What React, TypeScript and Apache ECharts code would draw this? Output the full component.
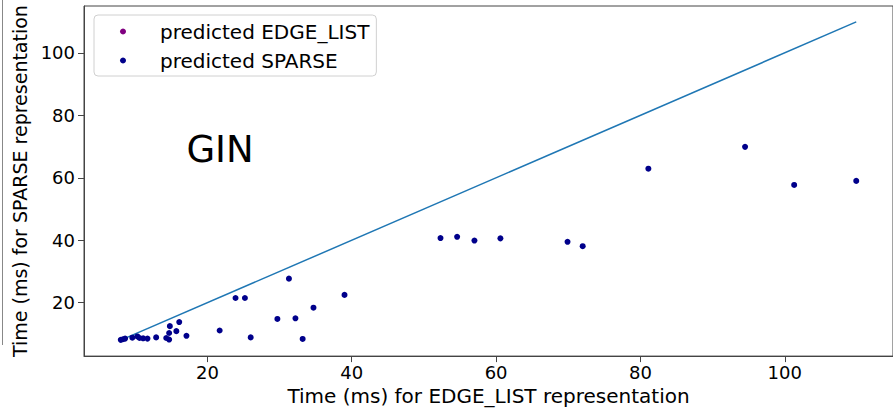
import React, { useEffect, useRef } from "react";
import * as echarts from "echarts";

// Per-graph timings (ms): EDGE_LIST representation vs SPARSE representation
const edgeListTimes = [
  8.0, 8.3, 8.6, 9.6, 10.3, 10.6, 11.1, 11.7, 12.9, 14.3, 14.7, 14.7, 14.8, 15.7,
  16.1, 17.1, 21.7, 23.9, 25.2, 26.0, 29.7, 31.3, 32.2, 33.2, 34.7, 39.0, 52.3,
  54.6, 57.0, 60.6, 69.9, 72.0, 81.1, 94.5, 101.3, 109.9,
];
const sparseTimes = [
  8.1, 8.3, 8.5, 8.8, 9.2, 8.7, 8.6, 8.5, 8.9, 8.7, 8.2, 10.3, 12.5, 10.9, 13.8,
  9.4, 11.1, 21.5, 21.5, 8.9, 14.8, 27.7, 15.0, 8.4, 18.4, 22.5, 40.7, 41.1, 39.9,
  40.6, 39.5, 38.1, 62.9, 69.9, 57.7, 59.0,
];
// Points where EDGE_LIST was predicted (none for this model)
const predictedEdgeList: number[][] = [];

const xTicks = [20, 40, 60, 80, 100];
const yTicks = [20, 40, 60, 80, 100];

const FONT = "DejaVu Sans";

export default function App() {
  const ref = useRef<HTMLDivElement>(null);

  useEffect(() => {
    document.body.style.margin = "0";
    if (!ref.current) return;
    const chart = echarts.init(ref.current, null, { renderer: "svg" });

    const sparsePoints = edgeListTimes.map((x, i) => [x, sparseTimes[i]]);
    const lo = Math.min(...edgeListTimes);
    const hi = Math.max(...edgeListTimes);
    const span = hi - lo;
    const xMin = lo - span * 0.05;
    const xMax = hi + span * 0.05;
    const yMin = Math.min(...sparseTimes, lo) - span * 0.05;
    const yMax = hi + span * 0.05;

    const axisColor = "#444";

    chart.setOption({
      animation: false,
      backgroundColor: "#fff",
      grid: {
        left: 84,
        top: 6,
        width: 815,
        height: 359,
        show: true,
        borderColor: axisColor,
        borderWidth: 1,
        backgroundColor: "transparent",
      },
      legend: {
        data: ["predicted EDGE_LIST", "predicted SPARSE"],
        orient: "vertical",
        left: 94,
        top: 15,
        icon: "circle",
        itemWidth: 16,
        itemHeight: 6,
        itemGap: 8,
        padding: [6, 7, 5, 26],
        borderColor: "#d0d0d0",
        borderWidth: 1,
        borderRadius: 4,
        backgroundColor: "rgba(255,255,255,0.85)",
        textStyle: {
          fontFamily: FONT,
          fontSize: 20,
          color: "#000",
          lineHeight: 21,
          padding: [0, 0, 0, 24],
        },
      },
      xAxis: {
        type: "value",
        min: xMin,
        max: xMax,
        splitLine: { show: false },
        axisLine: { show: true, lineStyle: { color: axisColor } },
        axisTick: { show: true, length: 6, customValues: xTicks, lineStyle: { color: axisColor } },
        axisLabel: { customValues: xTicks, fontFamily: FONT, fontSize: 18, color: "#000", margin: 7 },
        name: "Time (ms) for EDGE_LIST representation",
        nameLocation: "middle",
        nameGap: 22,
        nameTextStyle: { fontFamily: FONT, fontSize: 20, color: "#000" },
      },
      yAxis: {
        type: "value",
        min: yMin,
        max: yMax,
        splitLine: { show: false },
        axisLine: { show: true, lineStyle: { color: axisColor } },
        axisTick: { show: true, length: 6, customValues: yTicks, lineStyle: { color: axisColor } },
        axisLabel: { customValues: yTicks, fontFamily: FONT, fontSize: 18, color: "#000", margin: 9 },
        name: "Time (ms) for SPARSE representation",
        nameLocation: "middle",
        nameGap: 48,
        nameTextStyle: { fontFamily: FONT, fontSize: 19, color: "#000" },
      },
      series: [
        {
          name: "y = x",
          type: "line",
          data: [
            [lo, lo],
            [hi, hi],
          ],
          symbol: "none",
          lineStyle: { color: "#1f77b4", width: 1.5 },
          z: 1,
        },
        {
          name: "predicted EDGE_LIST",
          type: "scatter",
          data: predictedEdgeList,
          symbolSize: 6,
          itemStyle: { color: "#800080", opacity: 1 },
          z: 3,
        },
        {
          name: "predicted SPARSE",
          type: "scatter",
          data: sparsePoints,
          symbolSize: 6,
          itemStyle: { color: "#00008b", opacity: 1 },
          z: 3,
        },
      ],
      graphic: [
        {
          type: "text",
          x: 220,
          y: 149,
          style: {
            text: "GIN",
            fontFamily: FONT,
            fontSize: 37,
            fill: "#000",
            textAlign: "center",
            textVerticalAlign: "middle",
          },
        },
        {
          type: "line",
          shape: { x1: 2.5, y1: 0, x2: 2.5, y2: 345 },
          style: { stroke: "#888", lineWidth: 1 },
        },
      ],
    });

    return () => chart.dispose();
  }, []);

  return <div ref={ref} style={{ width: 893, height: 411 }} />;
}
